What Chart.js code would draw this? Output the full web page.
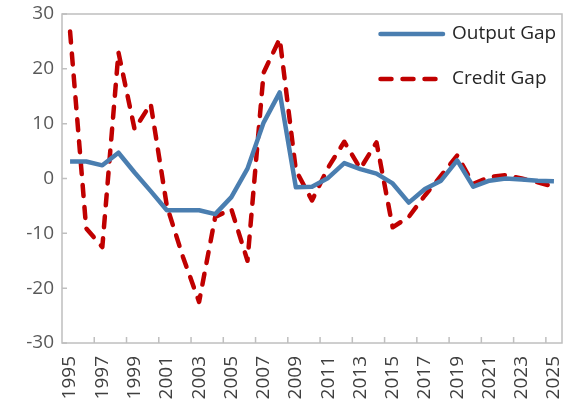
<!DOCTYPE html>
<html>
<head>
<meta charset="utf-8">
<script src="https://cdn.jsdelivr.net/npm/chart.js@4.4.1/dist/chart.umd.min.js"></script>
<style>
html, body { margin: 0; padding: 0; background: #fff; }
#wrap { width: 573px; height: 405px; }
</style>
</head>
<body>
<div id="wrap"><canvas id="gapChart"></canvas></div>
<script>
const years = ["1995", "1996", "1997", "1998", "1999", "2000", "2001", "2002", "2003", "2004",
    "2005", "2006", "2007", "2008", "2009", "2010", "2011", "2012", "2013", "2014",
    "2015", "2016", "2017", "2018", "2019", "2020", "2021", "2022", "2023", "2024", "2025"];

const outputGap = [3.1, 3.1, 2.4, 4.7, 1.1, -2.3, -5.8, -5.8, -5.8, -6.5,
    -3.4, 1.8, 10.2, 15.7, -1.6, -1.5, 0.1, 2.8, 1.7, 0.9,
    -0.9, -4.4, -1.9, -0.4, 3.3, -1.5, -0.4, 0, -0.2, -0.4, -0.5];

const creditGap = [26.8, -9.1, -12.5, 23, 9, 13.6, -5, -14.3, -22.5, -7,
    -5.6, -15, 19.3, 25.5, 1.5, -4, 2, 6.7, 1.8, 6.6,
    -8.9, -7, -3.1, 0.5, 4.2, -1, 0.3, 0.6, 0, -0.7, -1.5];

const yTicks = [-30, -20, -10, 0, 10, 20, 30];

Chart.defaults.font.family = "'Open Sans', sans-serif";

const frame = {
    id: "frame",
    beforeDatasetsDraw(chart) {
        const ctx = chart.ctx;
        const area = chart.chartArea;
        const x = chart.scales.x;
        const y = chart.scales.y;
        ctx.save();
        ctx.strokeStyle = "#bfbfbf";
        ctx.lineWidth = 1.5;
        ctx.strokeRect(area.left, area.top, area.right - area.left, area.bottom - area.top);
        ctx.beginPath();
        // small tick marks on the inside of the frame
        yTicks.forEach(v => {
            const py = y.getPixelForValue(v);
            ctx.moveTo(area.left, py);
            ctx.lineTo(area.left + 5, py);
        });
        years.forEach((yr, i) => {
            if (i > 0 && i % 2 === 0) {
                const px = (x.getPixelForValue(i - 1) + x.getPixelForValue(i)) / 2;
                ctx.moveTo(px, area.bottom);
                ctx.lineTo(px, area.bottom - 6);
            }
        });
        ctx.stroke();
        ctx.restore();
    },
    afterDraw(chart) {
        const ctx = chart.ctx;
        ctx.save();
        ctx.font = "19px 'Open Sans', sans-serif";
        ctx.textBaseline = "middle";
        ctx.fillStyle = "#262626";
        chart.data.datasets.forEach((ds, i) => {
            const ly = 34 + i * 45;
            ctx.strokeStyle = ds.borderColor;
            ctx.lineWidth = ds.borderWidth;
            ctx.lineCap = "round";
            ctx.setLineDash(ds.borderDash || []);
            ctx.beginPath();
            ctx.moveTo(380.5, ly);
            ctx.lineTo(ds.borderDash ? 436 : 443, ly);
            ctx.stroke();
            ctx.fillText(ds.label, 452, ly);
        });
        ctx.restore();
    }
};

new Chart(document.getElementById("gapChart"), {
    type: "line",
    data: {
        labels: years,
        datasets: [{
                label: "Output Gap",
                data: outputGap,
                borderColor: "#4a7eb0",
                borderWidth: 4.5,
                borderJoinStyle: "round",
                pointRadius: 0,
                tension: 0,
            }, {
                label: "Credit Gap",
                data: creditGap,
                borderColor: "#c00000",
                borderWidth: 4.5,
                borderDash: [11, 11],
                borderCapStyle: "round",
                borderJoinStyle: "round",
                pointRadius: 0,
                tension: 0,
            }
        ],
    },
    options: {
        responsive: true,
        maintainAspectRatio: false,
        animation: false,
        layout: { padding: { top: 14, right: 11, left: 0, bottom: 0 } },
        plugins: {
            legend: { display: false },
            tooltip: { enabled: false },
        },
        scales: {
            x: {
                offset: true,
                grid: { display: false, drawTicks: false },
                border: { display: false },
                ticks: {
                    autoSkip: false,
                    minRotation: 90,
                    maxRotation: 90,
                    padding: 13,
                    color: "#404040",
                    font: { size: 19 },
                    callback: (val, i) => i % 2 === 0 ? years[i] : "",
                },
                afterFit: axis => {
                    axis.height = 62;
                    axis.paddingLeft = 0;
                    axis.paddingRight = 0;
                },
            },
            y: {
                min: -30,
                max: 30,
                grid: { display: false, drawTicks: false },
                border: { display: false },
                ticks: {
                    stepSize: 10,
                    padding: 8,
                    color: "#595959",
                    font: { size: 19 },
                },
                afterFit: axis => {
                    axis.width = 62;
                    axis.paddingTop = 0;
                    axis.paddingBottom = 0;
                },
            },
        },
    },
    plugins: [frame],
});
</script>
</body>
</html>
